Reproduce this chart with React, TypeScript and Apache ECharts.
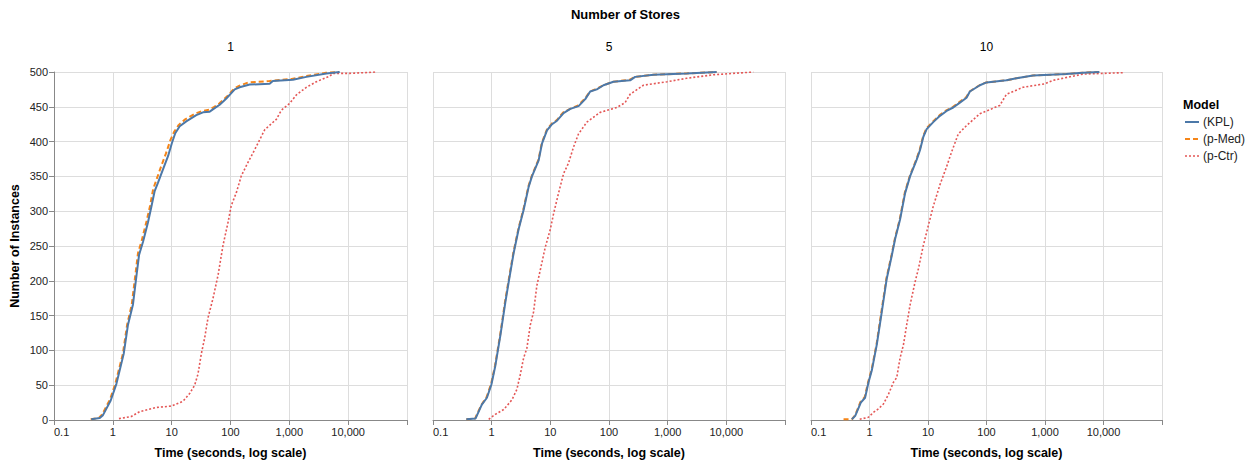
import React, { useEffect, useRef } from "react";
import * as echarts from "echarts";

// Panels (Number of Stores)
const storeCounts = ["1", "5", "10"];
const modelNames = ["(KPL)", "(p-Med)", "(p-Ctr)"];
const modelColors = ["#4c78a8", "#f58518", "#e45756"];

// [time in seconds, number of instances]
const kpl1: [number, number][] = [
  [0.43, 1], [0.6, 3], [0.68, 7], [0.92, 28], [1.15, 52], [1.53, 95], [1.81, 137], [2.2, 166],
  [2.57, 213], [2.79, 237], [3.26, 256], [3.96, 284], [4.51, 306], [5.14, 329], [5.86, 341],
  [7.12, 360], [8.67, 379], [10.1, 398], [11.5, 412], [13.7, 422], [17.7, 429], [26.2, 438],
  [34.1, 442], [44.3, 443], [53.8, 448], [65.5, 453], [85, 462], [118, 475], [143, 478],
  [212, 482], [463, 483], [525, 487], [1150, 489], [1950, 493], [4270, 498], [7180, 500],
];
const med1: [number, number][] = [
  [0.42, 1], [0.58, 3], [0.66, 8], [0.9, 30], [1.1, 52], [1.48, 95], [1.75, 137], [2.1, 166],
  [2.45, 213], [2.68, 240], [3.1, 258], [3.75, 286], [4.3, 308], [4.85, 332], [5.5, 345],
  [6.6, 364], [8.0, 383], [9.5, 402], [11, 414], [13.2, 424], [17, 432], [25, 440], [33, 444],
  [44, 446], [53, 450], [65, 455], [85, 464], [115, 476], [140, 480], [200, 485], [460, 487],
  [1100, 490], [1900, 494], [4200, 499], [7000, 500],
];
const ctr1: [number, number][] = [
  [1.27, 2], [2.06, 5], [2.86, 12], [3.96, 15], [5.49, 18], [9.87, 20], [15.6, 27], [20.2, 38],
  [24.6, 50], [28, 66], [31.9, 95], [36.4, 118], [41.5, 147], [50.5, 175], [61.4, 208],
  [74.6, 251], [90.8, 284], [103, 308], [126, 327], [153, 351], [198, 370], [275, 393],
  [381, 417], [601, 432], [731, 445], [1014, 455], [1315, 467], [1945, 478], [2877, 486],
  [4845, 494], [5520, 498], [10600, 498], [30100, 500],
];

const kpl5: [number, number][] = [
  [0.37, 1], [0.53, 2], [0.68, 22], [0.83, 32], [0.99, 51], [1.15, 77], [1.41, 122], [1.71, 169],
  [1.95, 198], [2.37, 240], [2.88, 274], [3.51, 302], [4.27, 335], [4.86, 350], [6.32, 373],
  [7.2, 397], [8.77, 416], [10.7, 425], [13, 430], [16.8, 441], [21.9, 447], [30.3, 451],
  [39.4, 461], [47.8, 472], [62, 475], [80.5, 481], [119, 486], [229, 488], [279, 493],
  [571, 496], [2113, 498], [6840, 500],
];
const med5: [number, number][] = [
  [0.37, 1], [0.52, 2], [0.67, 22], [0.82, 33], [0.98, 52], [1.14, 78], [1.4, 123], [1.69, 170],
  [1.93, 199], [2.35, 241], [2.86, 275], [3.48, 303], [4.24, 336], [4.83, 351], [6.28, 374],
  [7.15, 398], [8.7, 417], [10.6, 426], [12.9, 431], [16.6, 442], [21.7, 447], [30, 452],
  [39, 462], [47.5, 472], [61.5, 476], [80, 481], [118, 486], [227, 489], [277, 493],
  [565, 496], [2100, 498], [6800, 500],
];
const ctr5: [number, number][] = [
  [0.89, 1], [1.15, 8], [1.6, 15], [2.22, 29], [2.69, 44], [3.07, 65], [3.5, 89], [3.98, 103],
  [4.54, 136], [5.17, 155], [5.89, 193], [7.18, 226], [8.18, 248], [10, 274], [11.4, 297],
  [13.8, 326], [16.8, 354], [20.4, 369], [24.8, 392], [30.2, 411], [41.9, 428], [70.6, 442],
  [136, 449], [188, 456], [229, 468], [386, 481], [977, 486], [2113, 491], [6010, 496],
  [28800, 500],
];

const kpl10: [number, number][] = [
  [0.5, 1], [0.57, 6], [0.71, 25], [0.84, 32], [0.96, 54], [1.1, 72], [1.33, 108], [1.62, 155],
  [1.97, 203], [2.4, 236], [2.74, 260], [3.33, 288], [4.06, 326], [4.93, 350], [6.41, 374],
  [7.31, 388], [8.33, 407], [9.49, 418], [12.3, 428], [16, 437], [20.8, 444], [27, 449],
  [35.1, 456], [45.6, 463], [52, 472], [77, 481], [100, 485], [219, 488], [325, 491],
  [624, 495], [2310, 497], [4440, 499], [8500, 500],
];
const med10: [number, number][] = [
  [0.36, 1], [0.5, 1], [0.57, 7], [0.7, 26], [0.83, 33], [0.95, 55], [1.09, 73], [1.32, 109],
  [1.6, 156], [1.95, 204], [2.38, 237], [2.72, 261], [3.3, 289], [4.02, 327], [4.9, 351],
  [6.36, 375], [7.25, 389], [8.27, 408], [9.4, 419], [12.2, 429], [15.8, 438], [20.6, 445],
  [26.8, 450], [34.8, 457], [45.2, 464], [51.5, 472], [76, 481], [99, 485], [217, 488],
  [322, 491], [620, 495], [2300, 497], [4400, 499], [8400, 500],
];
const ctr10: [number, number][] = [
  [0.68, 1], [0.96, 4], [1.17, 11], [1.42, 16], [1.73, 23], [2.11, 37], [2.56, 54], [2.92, 61],
  [3.33, 89], [3.8, 108], [4.33, 137], [4.93, 165], [6.0, 198], [6.84, 217], [8.33, 251],
  [10.1, 279], [12.3, 307], [16, 338], [20.8, 364], [25.3, 385], [32.9, 411], [45.6, 423],
  [77, 440], [114, 446], [169, 452], [219, 468], [422, 478], [986, 483], [1368, 488],
  [4440, 497], [21400, 499],
];

const panelData = [
  [kpl1, med1, ctr1],
  [kpl5, med5, ctr5],
  [kpl10, med10, ctr10],
];

const FONT = "'Liberation Sans', Arial, Helvetica, sans-serif";

export default function App() {
  const ref = useRef<HTMLDivElement>(null);

  useEffect(() => {
    document.body.style.margin = "0";
    if (!ref.current) return;
    const chart = echarts.init(ref.current, null, { renderer: "svg" });

    const grids = [
      { left: 54, top: 72, width: 353, height: 351 },
      { left: 433, top: 72, width: 352, height: 351 },
      { left: 811, top: 72, width: 351, height: 351 },
    ];

    const xAxes = grids.map((_, i) => ({
      type: "log",
      logBase: 10,
      gridIndex: i,
      min: 0.1,
      max: 100000,
      name: "Time (seconds, log scale)",
      nameLocation: "middle",
      nameGap: 26,
      nameTextStyle: { fontFamily: FONT, fontWeight: "bold", fontSize: 12.5, color: "#000" },
      axisLine: { show: true, lineStyle: { color: "#888", width: 1 } },
      axisTick: { show: true, length: 5, lineStyle: { color: "#888" } },
      axisLabel: {
        fontFamily: FONT,
        fontSize: 11,
        color: "#222",
        margin: 6,
        alignMinLabel: "left",
        formatter: (v: number) => {
          const n = Number(Number(v).toPrecision(6));
          if (n >= 100000) return "";
          return n.toLocaleString("en-US");
        },
      },
      splitLine: { show: true, lineStyle: { color: "#ddd", width: 1 } },
      minorTick: { show: false },
    }));

    const yAxes = grids.map((_, i) => ({
      type: "value",
      gridIndex: i,
      min: 0,
      max: 500,
      interval: 50,
      name: i === 0 ? "Number of Instances" : "",
      nameLocation: "middle",
      nameGap: 33,
      nameTextStyle: { fontFamily: FONT, fontWeight: "bold", fontSize: 12.5, color: "#000" },
      axisLine: { show: i === 0, lineStyle: { color: "#888", width: 1 } },
      axisTick: { show: i === 0, length: 5, lineStyle: { color: "#888" } },
      axisLabel: { show: i === 0, fontFamily: FONT, fontSize: 11, color: "#222", margin: 6 },
      splitLine: { show: true, lineStyle: { color: "#ddd", width: 1 } },
    }));

    const lineStyles: any[] = [
      { width: 2, type: "solid" },
      { width: 2, type: [5, 3] },
      { width: 1.6, type: [2, 2] },
    ];
    const legendDash: any[] = [null, [5, 3], [2, 2]];
    const zs = [4, 3, 2];

    const series: any[] = [];
    panelData.forEach((panel, pi) => {
      panel.forEach((data, mi) => {
        series.push({
          type: "line",
          name: modelNames[mi],
          xAxisIndex: pi,
          yAxisIndex: pi,
          data,
          symbol: "none",
          showSymbol: false,
          z: zs[mi],
          color: modelColors[mi],
          lineStyle: { color: modelColors[mi], ...lineStyles[mi] },
        });
      });
    });

    const panelCenters = grids.map((g) => g.left + g.width / 2);

    const legendItems: any[] = [];
    modelNames.forEach((name, i) => {
      const y = 122 + i * 17;
      legendItems.push({
        type: "line",
        shape: { x1: 1185, y1: y, x2: 1199, y2: y },
        style: {
          stroke: modelColors[i],
          lineWidth: lineStyles[i].width,
          lineDash: legendDash[i],
        },
      });
      legendItems.push({
        type: "text",
        x: 1203,
        y,
        style: {
          text: name,
          font: `12px ${FONT}`,
          fill: "#222",
          align: "left",
          verticalAlign: "middle",
        },
      });
    });

    chart.setOption({
      animation: false,
      grid: grids,
      xAxis: xAxes,
      yAxis: yAxes,
      series,
      graphic: [
        {
          type: "text",
          left: "center",
          top: 8,
          style: {
            text: "Number of Stores",
            font: `bold 13px ${FONT}`,
            fill: "#000",
          },
        },
        ...storeCounts.map((s, i) => ({
          type: "text",
          x: panelCenters[i],
          y: 47,
          style: {
            text: s,
            font: `12px ${FONT}`,
            fill: "#000",
            align: "center",
            verticalAlign: "middle",
          },
        })),
        {
          type: "text",
          x: 1183,
          y: 105,
          style: {
            text: "Model",
            font: `bold 12.5px ${FONT}`,
            fill: "#000",
            align: "left",
            verticalAlign: "middle",
          },
        },
        ...legendItems,
      ],
    });

    return () => chart.dispose();
  }, []);

  return <div ref={ref} style={{ width: 1251, height: 464 }} />;
}
